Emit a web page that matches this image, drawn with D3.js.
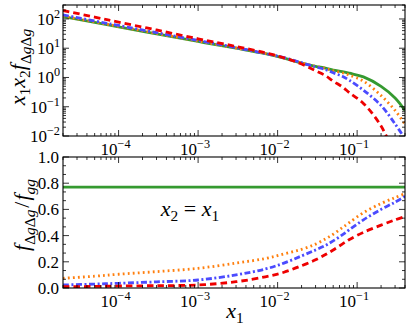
<!DOCTYPE html>
<html><head><meta charset="utf-8">
<script src="https://cdn.jsdelivr.net/npm/d3@7"></script>
<style>body{margin:0;background:#fff}svg{display:block}</style>
</head><body>
<script>
// ---- data ----
const xVals = [2e-5, 5e-5, 1e-4, 3e-4, 1e-3, 3e-3, 7e-3, 0.012, 0.02, 0.03, 0.04, 0.05, 0.065, 0.08, 0.12, 0.2, 0.3, 0.4];
const topGreen  = [120, 76, 54, 31, 17, 10, 6.5, 4.6, 3.1, 2.4, 2.1, 1.8, 1.6, 1.4, 1.05, 0.5, 0.2, 0.075];
const topOrange = [125, 79, 56, 32, 17.5, 10.2, 6.6, 4.7, 3.15, 2.4, 2.05, 1.7, 1.45, 1.2, 0.75, 0.24, 0.075, 0.025];
const topBlue   = [138, 85, 60, 34, 18.5, 10.5, 6.6, 4.8, 3.2, 2.3, 1.85, 1.45, 1.1, 0.8, 0.37, 0.11, 0.026, 0.008];
const topRed    = [195, 116, 78, 42, 21, 11.5, 7, 4.7, 2.9, 1.7, 1.15, 0.75, 0.48, 0.3, 0.13, 0.022, 0.002, 0.0003];
const botGreen  = [0.77, 0.77, 0.77, 0.77, 0.77, 0.77, 0.77, 0.77, 0.77, 0.77, 0.77, 0.77, 0.77, 0.77, 0.77, 0.77, 0.77, 0.77];
const botOrange = [0.074, 0.09, 0.105, 0.125, 0.15, 0.19, 0.225, 0.26, 0.295, 0.335, 0.375, 0.41, 0.46, 0.5, 0.575, 0.645, 0.69, 0.72];
const botBlue   = [0.023, 0.03, 0.036, 0.047, 0.061, 0.1, 0.145, 0.19, 0.245, 0.29, 0.325, 0.36, 0.405, 0.445, 0.52, 0.6, 0.655, 0.70];
const botRed    = [0.01, 0.012, 0.015, 0.018, 0.023, 0.048, 0.085, 0.12, 0.17, 0.215, 0.255, 0.29, 0.335, 0.37, 0.425, 0.48, 0.52, 0.545];
const xDomain = [2e-5, 0.4];
const yTopDomain = [1e-2, 300];
const yBotDomain = [0, 1];
const xMajor = [-4, -3, -2, -1];
const yTopMajor = [-2, -1, 0, 1, 2];
const yBotMajor = [0, 0.2, 0.4, 0.6, 0.8, 1.0];

// ---- layout ----
const W = 412, H = 328;
const L = 63, R = 405;
const topP = {y0: 5, y1: 136};
const botP = {y0: 157, y1: 288};
const FONT = "Liberation Serif";

const styles = [
  {key: "green",  color: "#359a30", dash: null,       w: 2.8},
  {key: "orange", color: "#ff7f0e", dash: "1.8,3.2",  w: 2.8},
  {key: "blue",   color: "#4b4bff", dash: "6,2.5,2,2.5", w: 2.8},
  {key: "red",    color: "#ee0000", dash: "6.5,4",    w: 2.8}
];
const topSeries = {green: topGreen, orange: topOrange, blue: topBlue, red: topRed};
const botSeries = {green: botGreen, orange: botOrange, blue: botBlue, red: botRed};

const svg = d3.select("body").append("svg").attr("width", W).attr("height", H);
const x = d3.scaleLog().domain(xDomain).range([L, R]);
const yT = d3.scaleLog().domain(yTopDomain).range([topP.y1, topP.y0]);
const yB = d3.scaleLinear().domain(yBotDomain).range([botP.y1, botP.y0]);

function txt(sel) { return sel.append("text").attr("font-family", FONT); }

function pow10Label(sel, e, fs) {
  sel.append("tspan").text("10");
  sel.append("tspan").attr("dy", -fs*0.42).attr("font-size", fs*0.72).text(e < 0 ? "\u2212" + (-e) : String(e));
}

function drawPanel(p, y, series, isLog, clipId) {
  const g = svg.append("g");
  g.append("rect").attr("x", L).attr("y", p.y0).attr("width", R-L).attr("height", p.y1-p.y0).attr("fill", "#fff");
  g.append("clipPath").attr("id", clipId).append("rect").attr("x", L).attr("y", p.y0).attr("width", R-L).attr("height", p.y1-p.y0);
  const line = d3.line().x((d,i) => x(xVals[i])).y(d => y(d)).curve(d3.curveCatmullRom.alpha(0.5));
  const lg = g.append("g").attr("clip-path", `url(#${clipId})`);
  styles.forEach(s => {
    lg.append("path").datum(series[s.key]).attr("d", line).attr("fill", "none")
      .attr("stroke", s.color).attr("stroke-width", s.w).attr("stroke-dasharray", s.dash);
  });
  const tk = g.append("g").attr("stroke", "#000").attr("stroke-width", 0.8);
  const xTicks = [];
  for (let e = -5; e <= 0; e++) for (let m = 1; m <= 9; m++) {
    const v = m * Math.pow(10, e);
    if (v >= xDomain[0] && v <= xDomain[1]) xTicks.push({v, major: m === 1});
  }
  xTicks.forEach(t => {
    const len = t.major ? 6 : 3;
    tk.append("line").attr("x1", x(t.v)).attr("x2", x(t.v)).attr("y1", p.y1).attr("y2", p.y1 - len);
    tk.append("line").attr("x1", x(t.v)).attr("x2", x(t.v)).attr("y1", p.y0).attr("y2", p.y0 + len);
  });
  const yTicks = [];
  if (isLog) {
    for (let e = -2; e <= 2; e++) for (let m = 1; m <= 9; m++) {
      const v = m * Math.pow(10, e);
      if (v >= yTopDomain[0] && v <= yTopDomain[1]) yTicks.push({v, major: m === 1});
    }
  } else {
    for (let i = 0; i <= 15; i++) yTicks.push({v: i/15, major: i % 3 === 0});
  }
  yTicks.forEach(t => {
    const len = t.major ? 6 : 3;
    tk.append("line").attr("x1", L).attr("x2", L + len).attr("y1", y(t.v)).attr("y2", y(t.v));
    tk.append("line").attr("x1", R).attr("x2", R - len).attr("y1", y(t.v)).attr("y2", y(t.v));
  });
  g.append("rect").attr("x", L).attr("y", p.y0).attr("width", R-L).attr("height", p.y1-p.y0)
    .attr("fill", "none").attr("stroke", "#000").attr("stroke-width", 1.1);
  const fs = 17;
  xMajor.forEach(e => {
    const t = txt(g).attr("x", x(Math.pow(10, e)) - 3).attr("y", p.y1 + 19)
      .attr("text-anchor", "middle").attr("font-size", fs);
    pow10Label(t, e, fs);
  });
  if (isLog) {
    yTopMajor.forEach(e => {
      const t = txt(g).attr("x", L - 3).attr("y", y(Math.pow(10, e)) + 6)
        .attr("text-anchor", "end").attr("font-size", fs);
      pow10Label(t, e, fs);
    });
  } else {
    yBotMajor.forEach(v => {
      txt(g).attr("x", L - 4).attr("y", y(v) + 6).attr("text-anchor", "end")
        .attr("font-size", fs).text(v.toFixed(1));
    });
  }
  return g;
}

drawPanel(topP, yT, topSeries, true, "clipTop");
drawPanel(botP, yB, botSeries, false, "clipBot");

const fsT = 22;
// top y label: x1 x2 f_{ΔgΔg}
const tl = txt(svg).attr("transform", `translate(25,67) rotate(-90)`).attr("text-anchor", "middle").attr("font-size", fsT);
tl.append("tspan").attr("font-style", "italic").text("x");
tl.append("tspan").attr("font-size", fsT*0.7).attr("dy", fsT*0.22).text("1");
tl.append("tspan").attr("font-style", "italic").attr("dy", -fsT*0.22).text("x");
tl.append("tspan").attr("font-size", fsT*0.7).attr("dy", fsT*0.22).text("2");
tl.append("tspan").attr("font-style", "italic").attr("dy", -fsT*0.22).text("f");
tl.append("tspan").attr("font-size", fsT*0.7).attr("dy", fsT*0.25).text("\u0394");
tl.append("tspan").attr("font-size", fsT*0.7).attr("font-style", "italic").text("g");
tl.append("tspan").attr("font-size", fsT*0.7).text("\u0394");
tl.append("tspan").attr("font-size", fsT*0.7).attr("font-style", "italic").text("g");

// bottom y label: f_{ΔgΔg}/f_{gg}
const bl = txt(svg).attr("transform", `translate(29,215) rotate(-90)`).attr("text-anchor", "middle").attr("font-size", fsT);
bl.append("tspan").attr("font-style", "italic").text("f");
bl.append("tspan").attr("font-size", fsT*0.7).attr("dy", fsT*0.25).text("\u0394");
bl.append("tspan").attr("font-size", fsT*0.7).attr("font-style", "italic").text("g");
bl.append("tspan").attr("font-size", fsT*0.7).text("\u0394");
bl.append("tspan").attr("font-size", fsT*0.7).attr("font-style", "italic").text("g");
bl.append("tspan").attr("dy", -fsT*0.25).attr("dx", 2).text("/");
bl.append("tspan").attr("font-style", "italic").attr("dx", 1).text("f");
bl.append("tspan").attr("font-size", fsT*0.7).attr("dy", fsT*0.25).attr("font-style", "italic").text("gg");

// x label
const xl = txt(svg).attr("x", 235).attr("y", 318).attr("text-anchor", "middle").attr("font-size", fsT);
xl.append("tspan").attr("font-style", "italic").text("x");
xl.append("tspan").attr("font-size", fsT*0.7).attr("dy", fsT*0.22).text("1");

// annotation x2 = x1
const an = txt(svg).attr("x", 190).attr("y", 216).attr("text-anchor", "middle").attr("font-size", fsT);
an.append("tspan").attr("font-style", "italic").text("x");
an.append("tspan").attr("font-size", fsT*0.7).attr("dy", fsT*0.22).text("2");
an.append("tspan").attr("dy", -fsT*0.22).text(" = ");
an.append("tspan").attr("font-style", "italic").text("x");
an.append("tspan").attr("font-size", fsT*0.7).attr("dy", fsT*0.22).text("1");
</script>
</body></html>
